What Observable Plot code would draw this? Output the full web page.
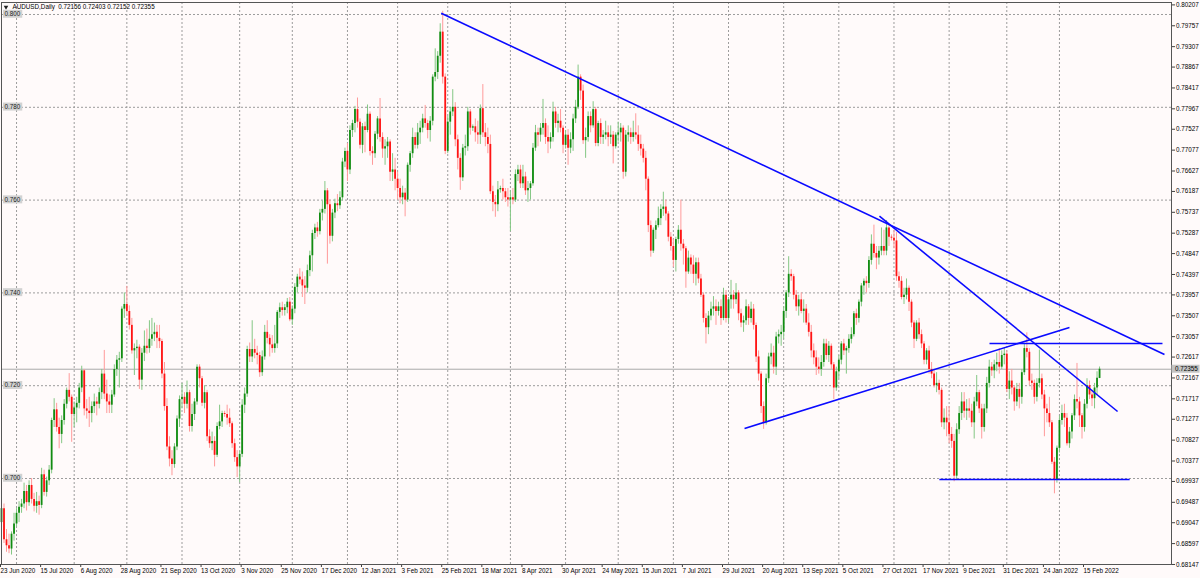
<!DOCTYPE html>
<html>
<head>
<meta charset="utf-8">
<script src="https://cdn.jsdelivr.net/npm/d3@7"></script>
<script src="https://cdn.jsdelivr.net/npm/@observablehq/plot@0.6"></script>
<style>
  html, body { margin: 0; padding: 0; background: #fffafa; }
  #chart svg { display: block; }
</style>
</head>
<body>
<div id="chart"></div>
<script>
// ---- Daily AUDUSD candles, one small array per month: [open, high, low, close] ----
const jun2020 = [[.6905,.6976,.6898,.6935],[.6935,.6945,.6860,.6868],[.6868,.6890,.6841,.6855],[.6855,.6880,.6838,.6848],[.6848,.6885,.6835,.6880],[.6880,.6925,.6865,.6902]];
const jul2020 = [[.6902,.6935,.6895,.6925],[.6925,.6950,.6905,.6938],[.6938,.6955,.6925,.6945],[.6945,.6990,.6935,.6972],[.6972,.6985,.6930,.6948],[.6948,.6995,.6940,.6985],[.6985,.7000,.6945,.6955],[.6955,.6968,.6928,.6940],[.6940,.6970,.6925,.6950],[.6950,.6962,.6921,.6942],[.6942,.7022,.6935,.7008],[.7008,.7018,.6962,.6970],[.6970,.7003,.6960,.6995],[.6995,.7028,.6985,.7018],[.7018,.7130,.7010,.7125],[.7125,.7172,.7110,.7148],[.7148,.7162,.7100,.7110],[.7110,.7130,.7064,.7095],[.7095,.7135,.7075,.7125],[.7125,.7170,.7115,.7160],[.7160,.7195,.7150,.7190],[.7190,.7226,.7165,.7175],[.7175,.7180,.7078,.7138]];
const aug2020 = [[.7138,.7165,.7110,.7152],[.7152,.7175,.7120,.7162],[.7162,.7205,.7150,.7195],[.7195,.7242,.7185,.7232],[.7232,.7235,.7135,.7150],[.7150,.7170,.7128,.7145],[.7145,.7175,.7110,.7140],[.7140,.7165,.7120,.7155],[.7155,.7182,.7140,.7165],[.7165,.7175,.7135,.7160],[.7160,.7195,.7150,.7185],[.7185,.7235,.7170,.7225],[.7225,.7276,.7170,.7182],[.7182,.7212,.7140,.7165],[.7165,.7180,.7140,.7158],[.7158,.7190,.7140,.7180],[.7180,.7245,.7175,.7235],[.7235,.7265,.7220,.7255],[.7255,.7272,.7195,.7258],[.7258,.7370,.7250,.7365],[.7365,.7400,.7345,.7375]];
const sep2020 = [[.7375,.7414,.7350,.7360],[.7360,.7372,.7320,.7330],[.7330,.7345,.7268,.7275],[.7275,.7290,.7222,.7280],[.7280,.7298,.7258,.7283],[.7283,.7288,.7192,.7212],[.7212,.7280,.7190,.7270],[.7270,.7318,.7252,.7285],[.7285,.7322,.7268,.7280],[.7280,.7340,.7270,.7300],[.7300,.7345,.7285,.7310],[.7310,.7335,.7295,.7315],[.7315,.7330,.7280,.7302],[.7302,.7330,.7280,.7295],[.7295,.7300,.7215,.7225],[.7225,.7250,.7145,.7155],[.7155,.7172,.7060,.7068],[.7068,.7090,.7025,.7042],[.7042,.7060,.7006,.7030],[.7030,.7075,.7022,.7068],[.7068,.7135,.7060,.7128],[.7128,.7178,.7110,.7170]];
const oct2020 = [[.7170,.7205,.7150,.7175],[.7175,.7185,.7140,.7160],[.7160,.7210,.7150,.7185],[.7185,.7190,.7100,.7112],[.7112,.7160,.7100,.7138],[.7138,.7172,.7125,.7165],[.7165,.7245,.7158,.7240],[.7240,.7245,.7195,.7215],[.7215,.7220,.7155,.7162],[.7162,.7200,.7150,.7185],[.7185,.7190,.7080,.7090],[.7090,.7105,.7065,.7075],[.7075,.7100,.7060,.7080],[.7080,.7090,.7025,.7050],[.7050,.7120,.7045,.7112],[.7112,.7158,.7105,.7122],[.7122,.7145,.7110,.7140],[.7140,.7145,.7132,.7138],[.7138,.7158,.7115,.7130],[.7130,.7150,.7110,.7118],[.7118,.7122,.7065,.7075],[.7075,.7085,.7035,.7045],[.7045,.7060,.7002,.7025]];
const nov2020 = [[.7025,.7058,.6991,.7052],[.7052,.7170,.7045,.7158],[.7158,.7195,.7140,.7182],[.7182,.7285,.7175,.7278],[.7278,.7292,.7250,.7262],[.7262,.7340,.7250,.7278],[.7278,.7300,.7258,.7270],[.7270,.7285,.7245,.7265],[.7265,.7272,.7218,.7228],[.7228,.7275,.7220,.7262],[.7262,.7330,.7255,.7315],[.7315,.7340,.7290,.7302],[.7302,.7310,.7262,.7288],[.7288,.7308,.7270,.7280],[.7280,.7330,.7270,.7290],[.7290,.7362,.7280,.7358],[.7358,.7378,.7345,.7368],[.7368,.7380,.7350,.7362],[.7362,.7375,.7350,.7368],[.7368,.7388,.7355,.7380],[.7380,.7390,.7338,.7342]];
const dec2020 = [[.7342,.7372,.7330,.7365],[.7365,.7420,.7355,.7412],[.7412,.7440,.7400,.7434],[.7434,.7452,.7418,.7428],[.7428,.7445,.7390,.7415],[.7415,.7435,.7375,.7410],[.7410,.7460,.7400,.7448],[.7448,.7490,.7435,.7480],[.7480,.7535,.7445,.7528],[.7528,.7548,.7515,.7540],[.7540,.7552,.7520,.7532],[.7532,.7580,.7525,.7572],[.7572,.7598,.7555,.7580],[.7580,.7640,.7570,.7620],[.7620,.7625,.7462,.7590],[.7590,.7600,.7505,.7522],[.7522,.7580,.7510,.7572],[.7572,.7602,.7560,.7592],[.7592,.7612,.7575,.7588],[.7588,.7618,.7580,.7605],[.7605,.7690,.7598,.7682],[.7682,.7712,.7670,.7705]];
const jan2021 = [[.7705,.7722,.7640,.7665],[.7665,.7760,.7655,.7750],[.7750,.7772,.7735,.7765],[.7765,.7802,.7745,.7795],[.7795,.7820,.7755,.7768],[.7768,.7775,.7710,.7718],[.7718,.7765,.7700,.7758],[.7758,.7768,.7702,.7750],[.7750,.7805,.7745,.7785],[.7785,.7790,.7695,.7705],[.7705,.7715,.7675,.7700],[.7700,.7748,.7690,.7742],[.7742,.7780,.7730,.7775],[.7775,.7819,.7725,.7735],[.7735,.7745,.7690,.7710],[.7710,.7730,.7675,.7715],[.7715,.7735,.7690,.7725],[.7725,.7730,.7640,.7660],[.7660,.7700,.7640,.7665],[.7665,.7690,.7620,.7645]];
const feb2021 = [[.7645,.7660,.7600,.7625],[.7625,.7645,.7592,.7605],[.7605,.7630,.7590,.7615],[.7615,.7625,.7564,.7600],[.7600,.7680,.7595,.7675],[.7675,.7705,.7660,.7700],[.7700,.7755,.7690,.7735],[.7735,.7745,.7710,.7718],[.7718,.7765,.7710,.7745],[.7745,.7770,.7720,.7755],[.7755,.7785,.7745,.7775],[.7775,.7804,.7755,.7765],[.7765,.7772,.7732,.7750],[.7750,.7780,.7725,.7770],[.7770,.7870,.7760,.7865],[.7865,.7926,.7855,.7875],[.7875,.7920,.7860,.7910],[.7910,.7980,.7895,.7962],[.7962,.8007,.7850,.7865],[.7865,.7872,.7698,.7705]];
const mar2021 = [[.7705,.7780,.7700,.7768],[.7768,.7800,.7740,.7790],[.7790,.7838,.7780,.7800],[.7800,.7810,.7715,.7730],[.7730,.7740,.7665,.7690],[.7690,.7700,.7621,.7648],[.7648,.7720,.7640,.7712],[.7712,.7740,.7695,.7715],[.7715,.7800,.7705,.7790],[.7790,.7795,.7740,.7755],[.7755,.7762,.7748,.7758],[.7758,.7775,.7725,.7745],[.7745,.7770,.7720,.7740],[.7740,.7805,.7720,.7797],[.7797,.7849,.7735,.7745],[.7745,.7765,.7715,.7735],[.7735,.7755,.7700,.7720],[.7720,.7740,.7612,.7618],[.7618,.7630,.7575,.7595],[.7595,.7610,.7563,.7590],[.7590,.7640,.7575,.7622],[.7622,.7630,.7615,.7625],[.7625,.7645,.7600,.7618],[.7618,.7625,.7595,.7605],[.7605,.7625,.7585,.7600]];
const apr2021 = [[.7600,.7620,.7532,.7605],[.7605,.7625,.7590,.7600],[.7600,.7665,.7595,.7655],[.7655,.7675,.7640,.7665],[.7665,.7675,.7625,.7635],[.7635,.7675,.7625,.7650],[.7650,.7660,.7610,.7620],[.7620,.7640,.7595,.7625],[.7625,.7640,.7600,.7635],[.7635,.7722,.7630,.7712],[.7712,.7761,.7705,.7745],[.7745,.7755,.7715,.7740],[.7740,.7765,.7725,.7755],[.7755,.7817,.7740,.7765],[.7765,.7775,.7720,.7735],[.7735,.7760,.7700,.7725],[.7725,.7745,.7710,.7735],[.7735,.7811,.7725,.7790],[.7790,.7800,.7755,.7765],[.7765,.7785,.7745,.7770],[.7770,.7795,.7745,.7755],[.7755,.7760,.7700,.7718]];
const may2021 = [[.7718,.7750,.7710,.7740],[.7740,.7752,.7675,.7712],[.7712,.7745,.7700,.7730],[.7730,.7785,.7705,.7775],[.7775,.7815,.7765,.7800],[.7800,.7891,.7795,.7865],[.7865,.7870,.7815,.7835],[.7835,.7848,.7720,.7728],[.7728,.7755,.7690,.7735],[.7735,.7790,.7725,.7780],[.7780,.7790,.7745,.7760],[.7760,.7812,.7755,.7795],[.7795,.7800,.7715,.7722],[.7722,.7770,.7715,.7765],[.7765,.7775,.7720,.7735],[.7735,.7750,.7720,.7740],[.7740,.7770,.7730,.7745],[.7745,.7760,.7715,.7735],[.7735,.7760,.7720,.7740],[.7740,.7748,.7678,.7715],[.7715,.7745,.7710,.7740]];
const jun2021 = [[.7740,.7768,.7725,.7745],[.7745,.7765,.7725,.7755],[.7755,.7760,.7645,.7660],[.7660,.7750,.7650,.7740],[.7740,.7760,.7725,.7745],[.7745,.7755,.7720,.7735],[.7735,.7770,.7725,.7745],[.7745,.7786,.7730,.7740],[.7740,.7760,.7705,.7720],[.7720,.7740,.7695,.7710],[.7710,.7720,.7680,.7690],[.7690,.7705,.7620,.7645],[.7645,.7650,.7530,.7545],[.7545,.7555,.7477,.7490],[.7490,.7540,.7485,.7535],[.7535,.7555,.7515,.7545],[.7545,.7585,.7540,.7560],[.7560,.7590,.7545,.7580],[.7580,.7617,.7565,.7585],[.7585,.7600,.7555,.7570],[.7570,.7575,.7510,.7520],[.7520,.7530,.7490,.7500]];
const jul2021 = [[.7500,.7515,.7455,.7470],[.7470,.7520,.7445,.7515],[.7515,.7545,.7505,.7535],[.7535,.7600,.7490,.7505],[.7505,.7515,.7460,.7495],[.7495,.7500,.7410,.7445],[.7445,.7490,.7440,.7475],[.7475,.7482,.7440,.7460],[.7460,.7480,.7420,.7440],[.7440,.7475,.7415,.7465],[.7465,.7475,.7420,.7430],[.7430,.7440,.7390,.7395],[.7395,.7400,.7335,.7345],[.7345,.7355,.7290,.7325],[.7325,.7360,.7310,.7350],[.7350,.7380,.7340,.7365],[.7365,.7392,.7350,.7370],[.7370,.7385,.7330,.7360],[.7360,.7380,.7350,.7370],[.7370,.7385,.7330,.7345],[.7345,.7410,.7340,.7395],[.7395,.7405,.7335,.7345]];
const aug2021 = [[.7345,.7390,.7335,.7385],[.7385,.7427,.7365,.7395],[.7395,.7405,.7365,.7385],[.7385,.7420,.7375,.7400],[.7400,.7405,.7340,.7355],[.7355,.7365,.7325,.7335],[.7335,.7350,.7315,.7340],[.7340,.7385,.7330,.7370],[.7370,.7375,.7330,.7345],[.7345,.7380,.7335,.7365],[.7365,.7375,.7320,.7330],[.7330,.7335,.7250,.7262],[.7262,.7275,.7210,.7225],[.7225,.7230,.7140,.7155],[.7155,.7165,.7106,.7120],[.7120,.7225,.7115,.7215],[.7215,.7270,.7205,.7262],[.7262,.7290,.7245,.7270],[.7270,.7285,.7225,.7240],[.7240,.7315,.7222,.7305],[.7305,.7320,.7290,.7310],[.7310,.7330,.7285,.7315]];
const sep2021 = [[.7315,.7370,.7300,.7360],[.7360,.7405,.7345,.7400],[.7400,.7478,.7390,.7440],[.7440,.7450,.7425,.7435],[.7435,.7440,.7385,.7395],[.7395,.7405,.7360,.7370],[.7370,.7395,.7350,.7385],[.7385,.7400,.7355,.7360],[.7360,.7385,.7335,.7365],[.7365,.7375,.7330,.7335],[.7335,.7355,.7305,.7315],[.7315,.7330,.7260,.7275],[.7275,.7290,.7245,.7260],[.7260,.7275,.7222,.7240],[.7240,.7260,.7225,.7235],[.7235,.7265,.7220,.7250],[.7250,.7300,.7240,.7290],[.7290,.7300,.7255,.7265],[.7265,.7295,.7250,.7285],[.7285,.7290,.7235,.7245],[.7245,.7250,.7170,.7195],[.7195,.7240,.7188,.7230]];
const oct2021 = [[.7230,.7265,.7215,.7255],[.7255,.7295,.7245,.7290],[.7290,.7300,.7265,.7275],[.7275,.7285,.7225,.7280],[.7280,.7310,.7270,.7300],[.7300,.7325,.7290,.7310],[.7310,.7360,.7305,.7355],[.7355,.7365,.7330,.7345],[.7345,.7385,.7335,.7380],[.7380,.7420,.7370,.7415],[.7415,.7430,.7395,.7425],[.7425,.7435,.7400,.7420],[.7420,.7478,.7410,.7470],[.7470,.7525,.7460,.7505],[.7505,.7546,.7475,.7485],[.7485,.7500,.7450,.7475],[.7475,.7500,.7460,.7490],[.7490,.7540,.7480,.7500],[.7500,.7535,.7480,.7490],[.7490,.7556,.7480,.7540],[.7540,.7545,.7500,.7520],[.7520,.7525,.7512,.7518]];
const nov2021 = [[.7518,.7535,.7495,.7512],[.7512,.7530,.7425,.7435],[.7435,.7445,.7410,.7425],[.7425,.7435,.7385,.7390],[.7390,.7410,.7375,.7395],[.7395,.7430,.7385,.7410],[.7410,.7415,.7360,.7380],[.7380,.7385,.7325,.7335],[.7335,.7340,.7280,.7300],[.7300,.7340,.7295,.7335],[.7335,.7345,.7300,.7310],[.7310,.7320,.7280,.7290],[.7290,.7295,.7245,.7255],[.7255,.7280,.7245,.7275],[.7275,.7285,.7225,.7235],[.7235,.7250,.7215,.7225],[.7225,.7235,.7195,.7200],[.7200,.7228,.7185,.7205],[.7205,.7212,.7180,.7190],[.7190,.7195,.7110,.7120],[.7120,.7150,.7105,.7130],[.7130,.7155,.7090,.7120]];
const dec2021 = [[.7120,.7155,.7075,.7095],[.7095,.7110,.7065,.7080],[.7080,.7095,.6993,.7005],[.7005,.7118,.6998,.7105],[.7105,.7155,.7095,.7140],[.7140,.7185,.7125,.7165],[.7165,.7185,.7130,.7145],[.7145,.7170,.7125,.7150],[.7150,.7172,.7130,.7145],[.7145,.7160,.7110,.7120],[.7120,.7175,.7085,.7165],[.7165,.7222,.7155,.7185],[.7185,.7190,.7140,.7150],[.7150,.7160,.7085,.7110],[.7110,.7160,.7100,.7150],[.7150,.7218,.7140,.7205],[.7205,.7255,.7195,.7240],[.7240,.7250,.7220,.7232],[.7232,.7255,.7215,.7245],[.7245,.7270,.7230,.7250],[.7250,.7280,.7225,.7240],[.7240,.7275,.7235,.7265],[.7265,.7280,.7245,.7268]];
const jan2022 = [[.7268,.7275,.7185,.7192],[.7192,.7230,.7170,.7210],[.7210,.7235,.7180,.7195],[.7195,.7200,.7145,.7165],[.7165,.7205,.7155,.7192],[.7192,.7205,.7150,.7175],[.7175,.7235,.7160,.7228],[.7228,.7290,.7222,.7280],[.7280,.7314,.7260,.7272],[.7272,.7280,.7200,.7210],[.7210,.7225,.7190,.7205],[.7205,.7212,.7160,.7175],[.7175,.7215,.7165,.7205],[.7205,.7277,.7195,.7215],[.7215,.7225,.7170,.7180],[.7180,.7190,.7090,.7150],[.7150,.7160,.7120,.7140],[.7140,.7175,.7110,.7120],[.7120,.7125,.7030,.7035],[.7035,.7045,.6967,.6998],[.6998,.7070,.6990,.7065]];
const feb2022 = [[.7065,.7135,.7055,.7125],[.7125,.7158,.7115,.7140],[.7140,.7160,.7110,.7130],[.7130,.7140,.7070,.7075],[.7075,.7110,.7065,.7100],[.7100,.7140,.7085,.7135],[.7135,.7180,.7125,.7170],[.7170,.7248,.7150,.7165],[.7165,.7175,.7110,.7135],[.7135,.7140,.7085,.7110],[.7110,.7170,.7100,.7160],[.7160,.7215,.7150,.7200],[.7200,.7210,.7170,.7180],[.7180,.7190,.7155,.7172],[.7172,.7205,.7150,.7195],[.7195,.7230,.7180,.7216],[.72156,.72403,.72152,.72355]];

// ---- Axis tick labels (every 16 bars) ----
const tickBars = [0,16,32,48,64,80,96,112,128,144,160,176,192,208,224,240,256,272,288,304,320,336,352,368,384,400,416,432];
const tickLabels = ["23 Jun 2020","15 Jul 2020","6 Aug 2020","28 Aug 2020","21 Sep 2020","13 Oct 2020","3 Nov 2020","25 Nov 2020","17 Dec 2020","12 Jan 2021","3 Feb 2021","25 Feb 2021","18 Mar 2021","8 Apr 2021","30 Apr 2021","24 May 2021","15 Jun 2021","7 Jul 2021","29 Jul 2021","20 Aug 2021","13 Sep 2021","5 Oct 2021","27 Oct 2021","17 Nov 2021","9 Dec 2021","31 Dec 2021","24 Jan 2022","15 Feb 2022"];
const priceTicks = [0.80207,0.79757,0.79307,0.78867,0.78417,0.77967,0.77527,0.77077,0.76627,0.76187,0.75737,0.75287,0.74847,0.74397,0.73957,0.73507,0.73057,0.72617,0.72167,0.71717,0.71277,0.70827,0.70377,0.69937,0.69487,0.69047,0.68597,0.68147];
const levelLines = [0.700,0.720,0.740,0.760,0.780,0.800];
const monthStartBars = [6,29,50,72,95,116,138,158,178,203,225,246,268,290,312,334,356,378,401,422];
const lastPrice = 0.72355;
const headerText = "AUDUSD,Daily  0.72156 0.72403 0.72152 0.72355";

// ---- Drawn trend lines (bar index, price) ----
const lineStartBar   = [175.4, 350.2, 296.4, 394.1, 374.1];
const lineStartPrice = [0.80028, 0.75653, 0.71078, 0.72909, 0.69978];
const lineEndBar     = [463.9, 445.2, 426.0, 463.1, 450.0];
const lineEndPrice   = [0.72672, 0.71444, 0.73254, 0.72909, 0.69978];

// ---- build tables ----
const months = [jun2020,jul2020,aug2020,sep2020,oct2020,nov2020,dec2020,jan2021,feb2021,mar2021,apr2021,may2021,jun2021,jul2021,aug2021,sep2021,oct2021,nov2021,dec2021,jan2022,feb2022];
const bars = months.flat().map(([open, high, low, close], i) => ({i, open, high, low, close}));
const up = bars.filter(d => d.close >= d.open);
const down = bars.filter(d => d.close < d.open);
const trendLines = lineStartBar.map((x1, k) => ({x1, y1: lineStartPrice[k], x2: lineEndBar[k], y2: lineEndPrice[k]}));

const FONT = "'Liberation Sans', Arial, sans-serif";

const chart = Plot.plot({
  width: 1200,
  height: 578,
  marginTop: 2,
  marginBottom: 14,
  marginLeft: 1,
  marginRight: 29,
  style: {background: "#fffafa", fontFamily: FONT, fontSize: "6.3px", color: "#000", overflow: "visible"},
  x: {type: "linear", domain: [0, 466.7], label: null},
  y: {type: "linear", domain: [0.681466, 0.802586], label: null},
  marks: [
    Plot.ruleX(monthStartBars, {stroke: "#9c9c9c", strokeDasharray: "2,2", strokeWidth: 1}),
    Plot.ruleY(levelLines, {stroke: "#9c9c9c", strokeDasharray: "2,2", strokeWidth: 1}),
    Plot.ruleY([lastPrice], {stroke: "#a9a9a9", strokeWidth: 1}),
    Plot.ruleX(up, {x: "i", y1: "low", y2: "high", stroke: "#84c784", strokeWidth: 1}),
    Plot.ruleX(down, {x: "i", y1: "low", y2: "high", stroke: "#ff9a9a", strokeWidth: 1}),
    Plot.ruleX(up, {x: "i", y1: "open", y2: "close", stroke: "#118c11", strokeWidth: 1.8}),
    Plot.ruleX(down, {x: "i", y1: "open", y2: "close", stroke: "#ff1414", strokeWidth: 1.8}),
    Plot.link(trendLines, {x1: "x1", y1: "y1", x2: "x2", y2: "y2", stroke: "#0a0aff", strokeWidth: 1.6}),
    Plot.axisX({ticks: tickBars, tickFormat: d => tickLabels[tickBars.indexOf(d)], tickSize: 3, tickPadding: 1.5, textAnchor: "start", dx: -1, label: null, stroke: "#404040", fill: "#000"}),
    Plot.axisY({anchor: "right", ticks: priceTicks, tickFormat: d => d.toFixed(5), tickSize: 3, tickPadding: 1.5, label: null, stroke: "#404040", fill: "#000"}),
    Plot.frame({stroke: "#555"}),
    Plot.text([headerText], {frameAnchor: "top-left", dx: 11, dy: 2, lineAnchor: "top", fill: "#000", fontSize: 6.3, text: d => d})
  ]
});

document.getElementById("chart").appendChild(chart);

// ---- label boxes that sit on the library's scales ----
const ys = chart.scale("y");
const xs = chart.scale("x");
const svg = d3.select(chart);
const g = svg.append("g")
  .attr("font-family", FONT)
  .attr("font-size", 6.3)
  .attr("text-anchor", "start")
  .style("text-anchor", "start");

// header triangle
g.append("path")
  .attr("d", d3.symbol(d3.symbolTriangle, 9)())
  .attr("transform", `translate(${xs.apply(0) + 5},${ys.apply(0.802586) + 5}) rotate(180)`)
  .attr("fill", "#222");

// left level labels 0.700 ... 0.800
levelLines.forEach(v => {
  const y = ys.apply(v);
  const t = g.append("text")
    .attr("x", xs.apply(0) + 3.5)
    .attr("y", y)
    .attr("dy", "0.36em")
    .attr("text-anchor", "start")
    .attr("fill", "#1a1a1a")
    .text(v.toFixed(3));
  const bb = t.node().getBBox();
  g.insert("rect", "text")
    .attr("x", bb.x - 1.5).attr("y", bb.y - 0.5)
    .attr("width", bb.width + 3).attr("height", bb.height + 1)
    .attr("fill", "#d2d2d2");
});

// current price box on the right axis
{
  const y = ys.apply(lastPrice);
  const x0 = xs.apply(466.7);
  g.append("rect").attr("x", x0 + 0.5).attr("y", y - 4).attr("width", 28).attr("height", 8).attr("fill", "#c4c4c4");
  g.append("text").attr("x", x0 + 4).attr("y", y).attr("dy", "0.36em").attr("text-anchor", "start").attr("fill", "#000").text(lastPrice.toFixed(5));
}
</script>
</body>
</html>
